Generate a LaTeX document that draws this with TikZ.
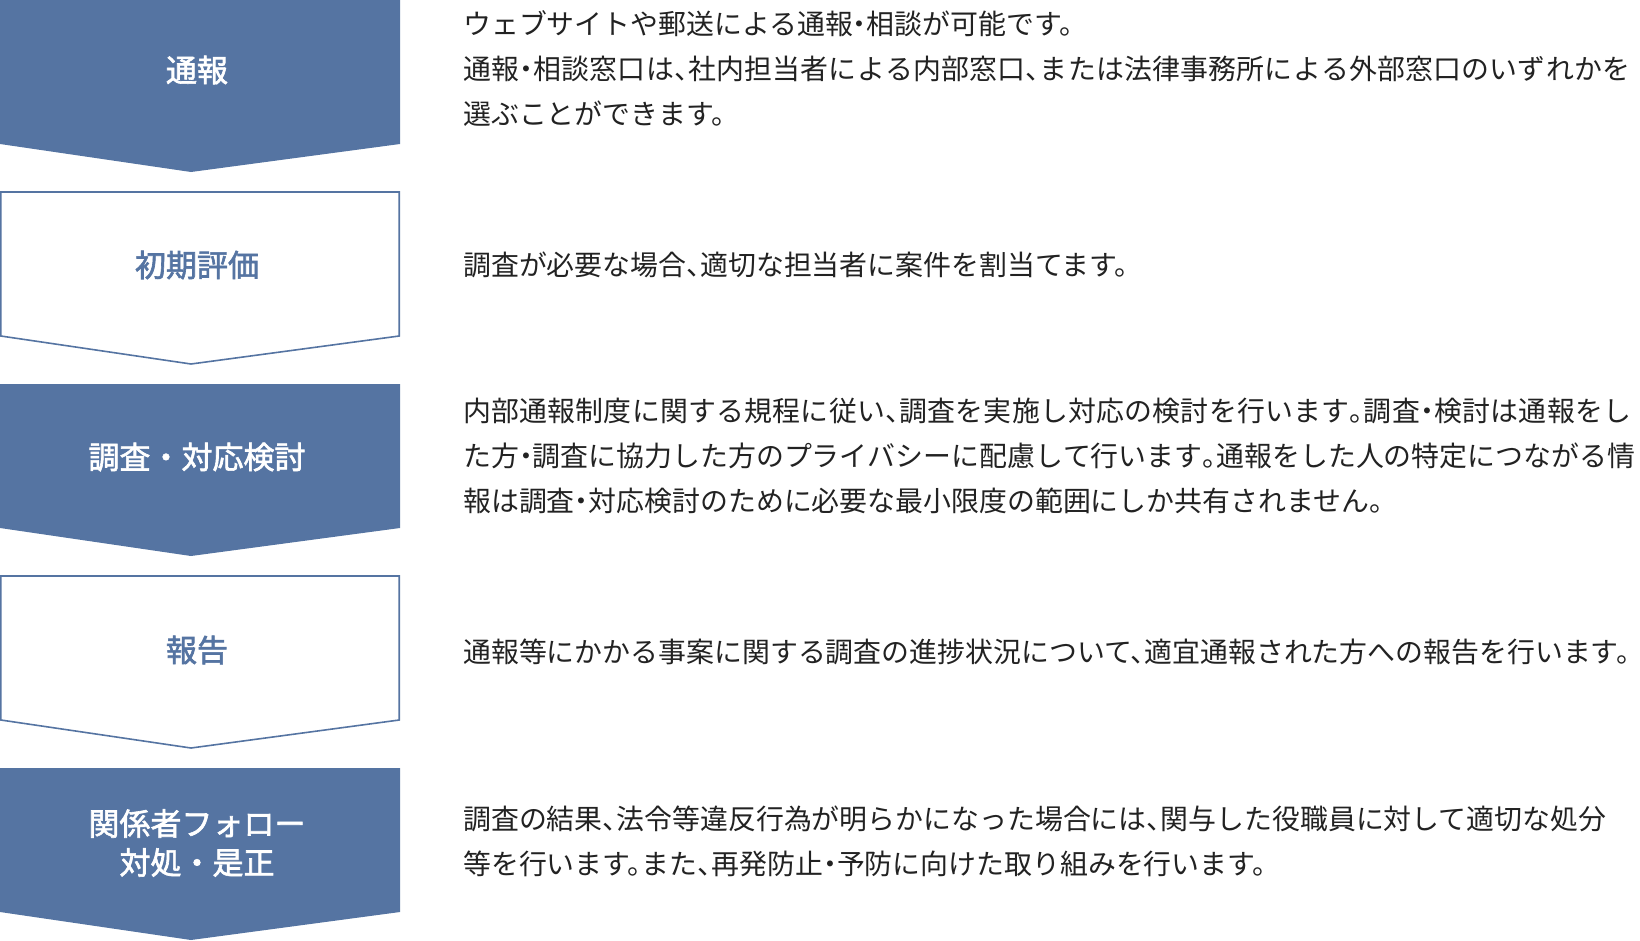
\documentclass[tikz,border=0pt]{standalone}
\usepackage{fontspec}
\newfontfamily\jplabel[FakeBold=2]{Noto Sans CJK JP}
\newfontfamily\jpdesc[RawFeature=+halt]{Noto Sans CJK JP}
\makeatletter
\def\jspfirst#1{#1\jsploop}
\def\jsploop#1{\ifx#1\relax\else\hskip0pt plus 1pt\relax#1\expandafter\jsploop\fi}
\newcommand\jline[2]{\hbox to #1{\jspfirst#2\relax}}
\makeatother
\definecolor{flowblue}{HTML}{5574A2}
\definecolor{bodytext}{HTML}{222222}
\begin{document}
\begin{tikzpicture}[x=1pt,y=-1pt,
  filledstep/.style={fill=flowblue,draw=none},
  openstep/.style={fill=white,draw=flowblue,line width=1.6pt},
  steplabel/.style={inner sep=0pt,align=center,font=\jplabel\fontsize{31pt}{39pt}\selectfont},
  desc/.style={inner sep=0pt,anchor=west,align=left,text=bodytext,font=\jpdesc\fontsize{27.9pt}{45pt}\selectfont}]
\useasboundingbox (0,0) rectangle (1640,940);
% shapes
\path[filledstep] (0,0) -- (400,0) -- (400,144) -- (191,172) -- (0,144) -- cycle;
\path[openstep] (0.8,192) -- (399.2,192) -- (399.2,336) -- (191,364) -- (0.8,336) -- cycle;
\path[filledstep] (0,384) -- (400,384) -- (400,528) -- (191,556) -- (0,528) -- cycle;
\path[openstep] (0.8,576) -- (399.2,576) -- (399.2,720) -- (191,748) -- (0.8,720) -- cycle;
\path[filledstep] (0,768) -- (400,768) -- (400,912) -- (191,940) -- (0,912) -- cycle;
% labels
\node[steplabel,text=white] (s1) at (197,70) {通報};
\node[steplabel,text=flowblue] (s2) at (197,265) {初期評価};
\node[steplabel,text=white] (s3) at (197,457) {調査・対応検討};
\node[steplabel,text=flowblue] (s4) at (197,650) {報告};
\node[steplabel,text=white] (s5) at (197,843) {関係者フォロー\\対処・是正};
% descriptions
\node[desc] (d1) at (463,69) {ウェブサイトや郵送による通報・相談が可能です。\\\jline{1167pt}{通報・相談窓口は、社内担当者による内部窓口、または法律事務所による外部窓口のいずれかを}\\選ぶことができます。};
\node[desc] (d2) at (463,265) {調査が必要な場合、適切な担当者に案件を割当てます。};
\node[desc] (d3) at (463,456) {\jline{1168pt}{内部通報制度に関する規程に従い、調査を実施し対応の検討を行います。調査・検討は通報をし}\\\jline{1157pt}{た方・調査に協力した方のプライバシーに配慮して行います。通報をした人の特定につながる情}\\報は調査・対応検討のために必要な最小限度の範囲にしか共有されません。};
\node[desc] (d4) at (463,652) {通報等にかかる事案に関する調査の進捗状況について、適宜通報された方への報告を行います。};
\node[desc] (d5) at (463,841) {調査の結果、法令等違反行為が明らかになった場合には、関与した役職員に対して適切な処分\\等を行います。また、再発防止・予防に向けた取り組みを行います。};
\end{tikzpicture}
\end{document}
